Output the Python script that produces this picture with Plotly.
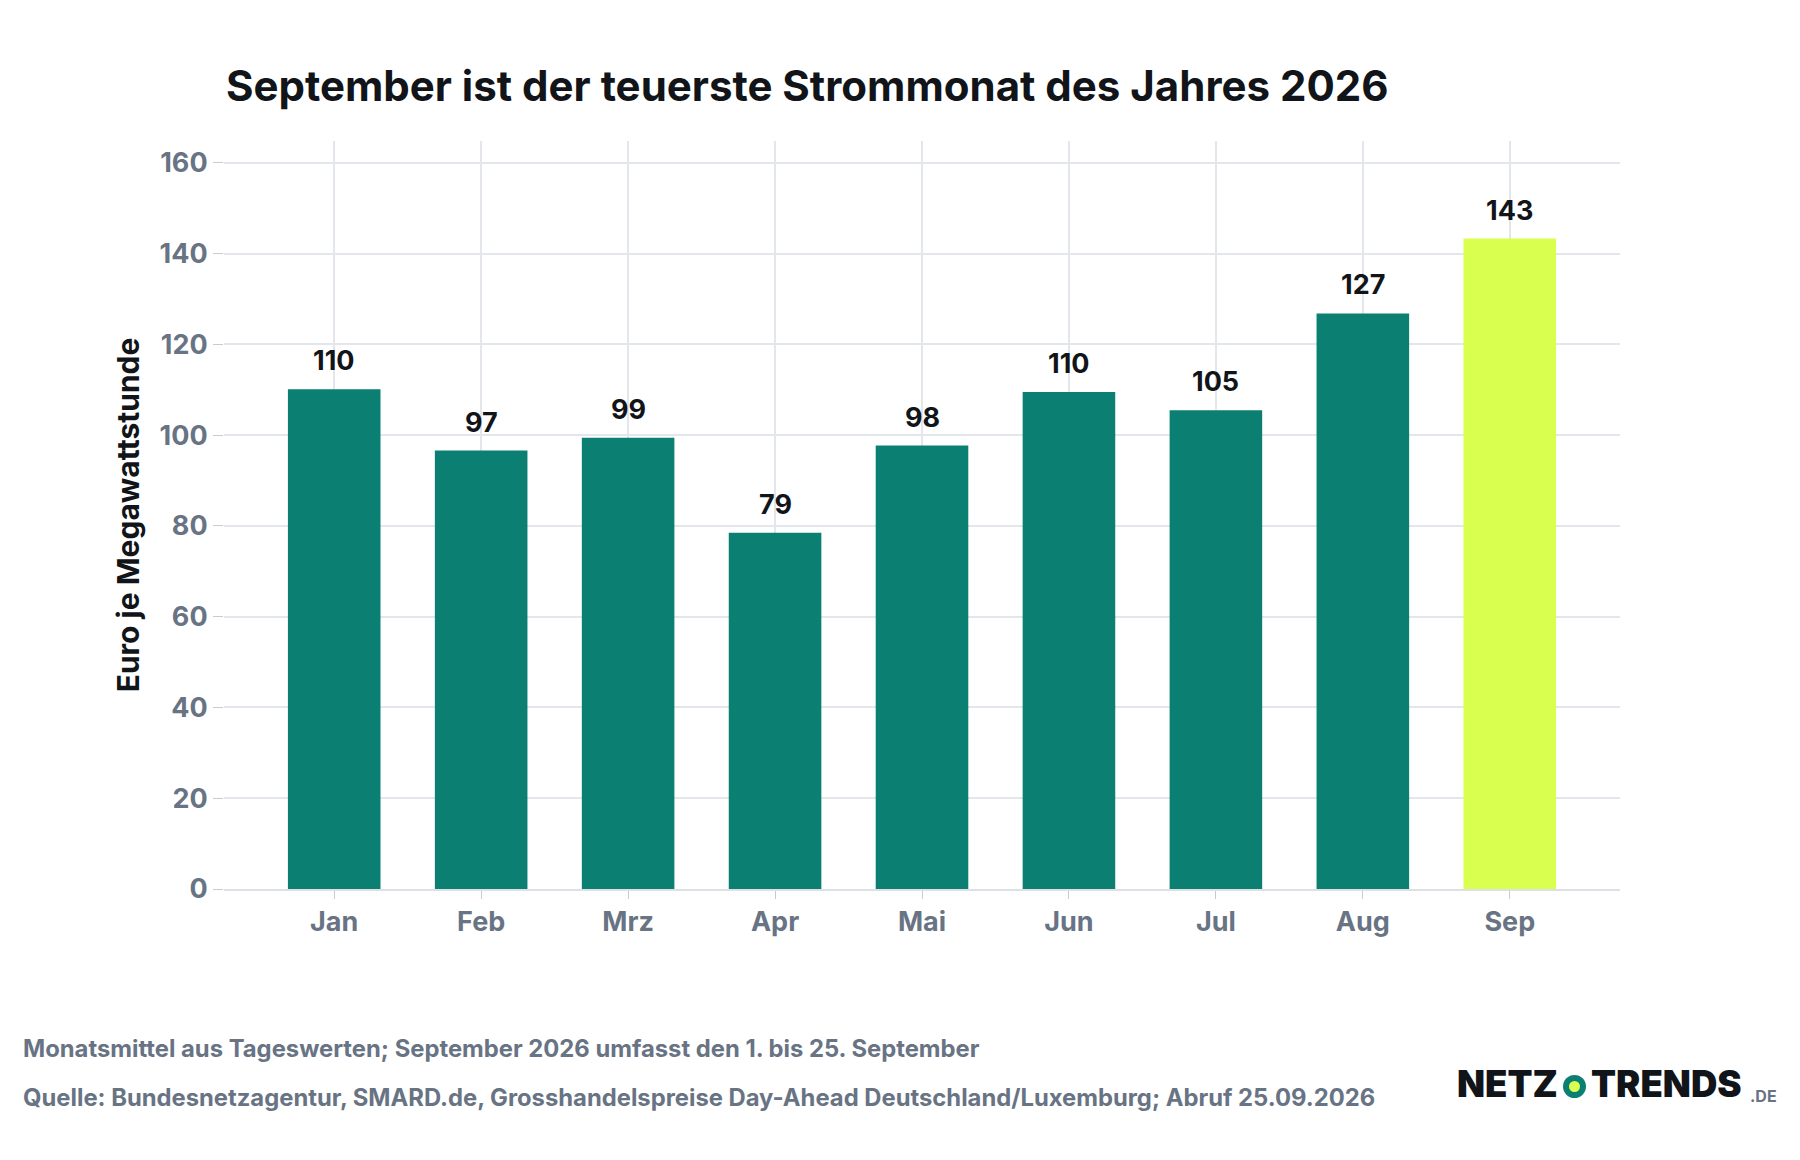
import plotly.graph_objects as go

months = ["Jan","Feb","Mrz","Apr","Mai","Jun","Jul","Aug","Sep"]
values = [110.1, 96.6, 99.4, 78.5, 97.7, 109.5, 105.5, 126.8, 143.3]
labels = ["110","97","99","79","98","110","105","127","143"]
colors = ["#0b8072"]*8 + ["#d9ff4f"]

T, B, L, R = 133, 279, 216, 188
PH = 1160 - T - B
PW = 1800 - L - R
def px(x): return (x - L) / PW
def py(y): return (1160 - B - y) / PH

fig = go.Figure(go.Bar(x=months, y=values,
    marker=dict(color=colors, line=dict(width=0)), width=0.63))

for m, v, t in zip(months, values, labels):
    fig.add_annotation(x=m, y=v, text="<b>%s</b>" % t, showarrow=False, yanchor="bottom",
        yshift=10, font=dict(family="Inter", size=27, color="#111418"))

fig.update_layout(
    width=1800, height=1160, paper_bgcolor="white", plot_bgcolor="white",
    margin=dict(l=L, r=R, t=T, b=B),
    font=dict(family="Inter"),
    title=dict(text="<b>September ist der teuerste Strommonat des Jahres 2026</b>",
               x=218/1800, xanchor="left", y=1-78/1160, yanchor="middle",
               font=dict(size=42, color="#111418")),
    showlegend=False)
fig.update_xaxes(range=[-0.75, 8.75], showgrid=True, gridcolor="#e3e6ea", gridwidth=1.5,
    ticks="outside", ticklen=8, tickcolor="#c8ccd2", showline=True, linecolor="#dde0e4", linewidth=1.5,
    tickfont=dict(size=27, color="#687384", weight="bold"))
fig.update_yaxes(range=[0,164.8], dtick=20, showgrid=True, gridcolor="#e3e6ea", gridwidth=1.5,
    ticks="outside", ticklen=10, tickcolor="#c8ccd2", zeroline=False,
    tickfont=dict(size=27, color="#687384", weight="bold"),
    title=dict(text="<b>Euro je Megawattstunde</b>", font=dict(size=30, color="#111418"), standoff=10))

fig.add_annotation(text="<b>Monatsmittel aus Tageswerten; September 2026 umfasst den 1. bis 25. September</b>",
    xref="paper", yref="paper", x=px(13), y=py(1040), xanchor="left", yanchor="middle",
    showarrow=False, font=dict(size=23.8, color="#687384"))
fig.add_annotation(text="<b>Quelle: Bundesnetzagentur, SMARD.de, Grosshandelspreise Day-Ahead Deutschland/Luxemburg; Abruf 25.09.2026</b>",
    xref="paper", yref="paper", x=px(13), y=py(1089), xanchor="left", yanchor="middle",
    showarrow=False, font=dict(size=23.8, color="#687384"))
# logo
LY = 1076
DX = -16
fig.add_annotation(text="NETZ", xref="paper", yref="paper", x=px(1568+DX), y=py(LY),
    xanchor="right", yanchor="middle", showarrow=False, font=dict(size=36.5, color="#111418", family="Inter", weight=900))
fig.add_annotation(text="TRENDS", xref="paper", yref="paper", x=px(1597+DX), y=py(LY),
    xanchor="left", yanchor="middle", showarrow=False, font=dict(size=36.5, color="#111418", family="Inter", weight=900))
fig.add_annotation(text="<b>.DE</b>", xref="paper", yref="paper", x=px(1740), y=py(LY+12),
    xanchor="left", yanchor="middle", showarrow=False, font=dict(size=16, color="#687384"))
fig.add_shape(type="circle", xref="paper", yref="paper",
    x0=px(1571+DX), x1=px(1594+DX), y0=py(LY+14), y1=py(LY-9),
    fillcolor="#0b8072", line=dict(width=0))
fig.add_shape(type="circle", xref="paper", yref="paper",
    x0=px(1577+DX), x1=px(1588+DX), y0=py(LY+8), y1=py(LY-3),
    fillcolor="#d9ff4f", line=dict(width=0))
fig.write_html("out.html")
